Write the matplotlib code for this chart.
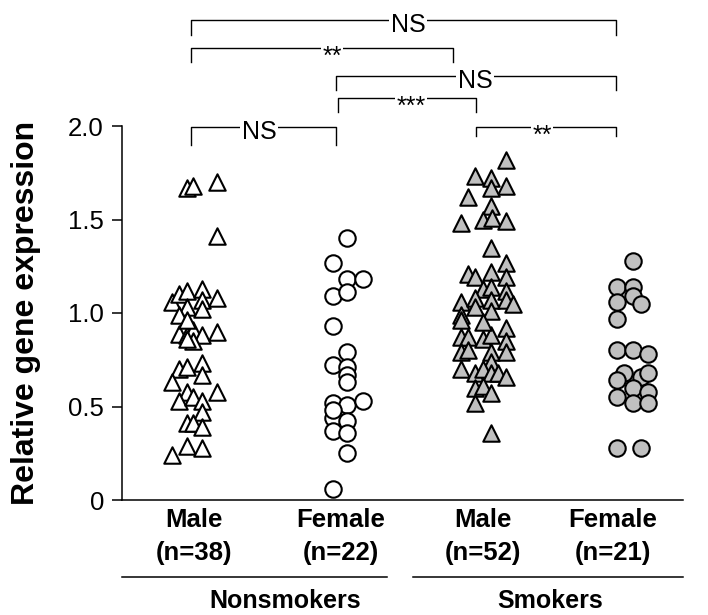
import matplotlib
matplotlib.use("Agg")
import matplotlib.pyplot as plt
import matplotlib.transforms as mtransforms

plt.rcParams["font.family"] = ["Liberation Sans", "DejaVu Sans"]

# ---------------------------------------------------------------
# Data
# ---------------------------------------------------------------
male_ns = [1.67, 1.68, 1.70, 1.41, 1.06, 1.10, 1.12, 1.13, 1.07, 1.08,
           1.03, 0.99, 1.02, 0.89, 0.88, 0.91, 0.88, 0.90, 0.85, 0.96,
           0.86, 0.70, 0.71, 0.73, 0.67, 0.63, 0.58, 0.53, 0.55, 0.53,
           0.58, 0.47, 0.41, 0.41, 0.39, 0.29, 0.28, 0.24]
male_ns_jit = [-0.055, -0.014, 0.151, 0.151, -0.158, -0.110, -0.055, 0.048, 0.048, 0.151,
               -0.055, -0.110, 0.048, -0.110, -0.055, -0.014, 0.048, 0.151, -0.014, -0.055,
               -0.055, -0.110, -0.055, 0.048, 0.048, -0.158, -0.055, -0.110, -0.014, 0.048,
               0.151, 0.048, -0.055, -0.014, 0.048, -0.055, 0.048, -0.158]

female_ns = [1.40, 1.27, 1.18, 1.18, 1.09, 1.11, 0.93, 0.79, 0.72, 0.71,
             0.67, 0.63, 0.52, 0.51, 0.53, 0.44, 0.42, 0.37, 0.36, 0.25,
             0.06, 0.48]
female_ns_jit = [0.041, -0.055, 0.041, 0.151, -0.055, 0.041, -0.055, 0.041, -0.055, 0.041,
                 0.041, 0.041, -0.055, 0.041, 0.151, -0.055, 0.041, -0.055, 0.041, 0.041,
                 -0.055, -0.055]

male_s = [1.82, 1.73, 1.72, 1.68, 1.67, 1.62, 1.57, 1.48, 1.50, 1.51,
          1.49, 1.35, 1.27, 1.21, 1.19, 1.22, 1.19, 1.13, 1.14, 1.12,
          1.06, 1.08, 1.07, 1.07, 1.05, 1.03, 0.99, 1.01, 0.96, 0.92,
          0.87, 0.87, 0.86, 0.88, 0.85, 0.79, 0.80, 0.79, 0.79, 0.74,
          0.70, 0.68, 0.70, 0.68, 0.68, 0.66, 0.60, 0.61, 0.57, 0.52,
          0.36, 0.95]
male_s_jit = [0.130, -0.082, 0.027, 0.130, 0.027, -0.130, 0.027, -0.178, -0.027, 0.034,
              0.130, 0.027, 0.130, -0.130, -0.082, 0.027, 0.130, -0.027, 0.027, 0.130,
              -0.178, -0.082, 0.027, 0.130, 0.178, -0.082, -0.178, 0.027, -0.178, 0.130,
              -0.178, -0.130, -0.027, 0.027, 0.130, -0.178, -0.130, 0.027, 0.130, 0.027,
              -0.178, -0.082, -0.027, 0.027, 0.075, 0.130, -0.082, -0.027, 0.027, -0.082,
              0.027, -0.027]

female_s = [1.28, 1.14, 1.14, 1.06, 1.09, 1.05, 0.97, 0.80, 0.80, 0.78,
            0.68, 0.66, 0.68, 0.64, 0.60, 0.58, 0.55, 0.52, 0.52, 0.28,
            0.28]
female_s_jit = [0.0, -0.110, 0.0, -0.110, 0.0, 0.055, -0.110, -0.110, 0.0, 0.103,
                -0.062, 0.055, 0.103, -0.110, 0.0, 0.103, -0.110, 0.0, 0.103, -0.110,
                0.055]

groups = [male_ns, female_ns, male_s, female_s]
jitters = [male_ns_jit, female_ns_jit, male_s_jit, female_s_jit]
markers = ["^", "o", "^", "o"]
fills = ["white", "white", "#c0c0c0", "#c0c0c0"]

cat_labels = ["Male\n(n=38)", "Female\n(n=22)", "Male\n(n=52)", "Female\n(n=21)"]
group_names = ["Nonsmokers", "Smokers"]

# significance brackets: x left, x right, bar height, leg length, label, label x
bracket_x1 = [0.973, 0.973, 1.966, 1.979, 0.973, 2.925]
bracket_x2 = [3.884, 2.767, 3.884, 2.925, 1.966, 3.884]
bracket_y = [2.567, 2.417, 2.267, 2.150, 1.995, 1.995]
bracket_leg = [0.080, 0.075, 0.075, 0.075, 0.096, 0.048]
bracket_text = ["NS", "**", "NS", "***", "NS", "**"]
bracket_text_x = [2.459, 1.938, 2.918, 2.479, 1.438, 3.377]

# ---------------------------------------------------------------
# Figure
# ---------------------------------------------------------------
fig = plt.figure(figsize=(7.08, 6.15), dpi=100)
ax = fig.add_axes([122 / 708, 115 / 615, 561 / 708, 374 / 615])

for i, (vals, jit) in enumerate(zip(groups, jitters)):
    xs = [i + 1 + j for j in jit]
    ax.scatter(xs, vals, marker=markers[i], s=140, facecolor=fills[i],
               edgecolor="black", linewidth=1.5, zorder=3, clip_on=False)

ax.set_xlim(0.5, 4.342)
ax.set_ylim(0, 2.0)
ax.set_yticks([0, 0.5, 1.0, 1.5, 2.0])
ax.set_yticklabels(["0", "0.5", "1.0", "1.5", "2.0"], fontsize=18.5)
ax.tick_params(axis="y", length=7, width=1.1, pad=6, direction="out")

ax.set_xticks([0.99, 2.0, 2.97, 3.86])
ax.set_xticklabels(cat_labels, fontsize=18.5, fontweight="bold", linespacing=1.45)
ax.tick_params(axis="x", length=0, pad=6)

for side in ["top", "right"]:
    ax.spines[side].set_visible(False)
for side in ["left", "bottom"]:
    ax.spines[side].set_linewidth(1.1)

ax.set_ylabel("Relative gene expression", fontsize=23, fontweight="bold")
ax.yaxis.set_label_coords(-0.145, 0.5)

# group underlines and names
trans = mtransforms.blended_transform_factory(ax.transData, ax.transAxes)
ax.plot([0.5, 2.315], [-0.206, -0.206], color="black", lw=1.1,
        transform=trans, clip_on=False)
ax.plot([2.493, 4.342], [-0.206, -0.206], color="black", lw=1.1,
        transform=trans, clip_on=False)
ax.text(1.616, -0.27, group_names[0], transform=trans, ha="center", va="center",
        fontsize=18, fontweight="bold")
ax.text(3.43, -0.27, group_names[1], transform=trans, ha="center", va="center",
        fontsize=18, fontweight="bold")

# significance brackets
for x1, x2, y, leg, txt, tx in zip(bracket_x1, bracket_x2, bracket_y,
                                   bracket_leg, bracket_text, bracket_text_x):
    ax.plot([x1, x1, x2, x2], [y - leg, y, y, y - leg], color="black",
            lw=1.0, clip_on=False)
    dy = -16 if "*" in txt else -12
    ax.annotate(txt, xy=(tx, y), xytext=(0, dy), textcoords="offset pixels",
                ha="center", va="baseline", fontsize=18, annotation_clip=False,
                bbox=dict(facecolor="white", edgecolor="none", pad=1.0))

fig.savefig("out.png", dpi=100)
